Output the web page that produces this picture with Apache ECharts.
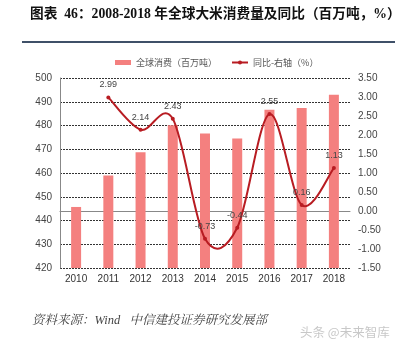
<!DOCTYPE html>
<html>
<head>
<meta charset="utf-8">
<script src="https://cdn.jsdelivr.net/npm/echarts@6/dist/echarts.min.js"></script>
<style>
  html, body { margin: 0; padding: 0; background: #fff; }
  #chart { width: 413px; height: 347px; }
</style>
</head>
<body>
<div id="chart"></div>
<script>
// Global rice consumption (million tonnes) and year-on-year change (%)
const years = ['2010', '2011', '2012', '2013', '2014', '2015', '2016', '2017', '2018'];
const consumption = [445.7, 458.9, 468.7, 480.1, 476.6, 474.5, 486.6, 487.4, 492.9];
const yoy = [null, 2.99, 2.14, 2.43, -0.73, -0.44, 2.55, 0.16, 1.13];
const leftTicks = { min: 420, max: 500, interval: 10 };
const rightTicks = { min: -1.5, max: 3.5, interval: 0.5 };

const LINE_COLOR = '#b81c22';

// Catmull-Rom style smoothed path through the yoy points (spreadsheet-like curve)
function renderCurve(params, api) {
  if (params.dataIndex !== 0) return null;
  const pts = [];
  years.forEach((y, i) => {
    if (yoy[i] !== null) pts.push(api.coord([i, yoy[i]]));
  });
  if (pts.length < 2) return null;
  let d = 'M' + pts[0][0] + ' ' + pts[0][1];
  for (let i = 0; i < pts.length - 1; i++) {
    const p0 = pts[Math.max(i - 1, 0)];
    const p1 = pts[i];
    const p2 = pts[i + 1];
    const p3 = pts[Math.min(i + 2, pts.length - 1)];
    const c1x = p1[0] + (p2[0] - p0[0]) / 6;
    const c1y = p1[1] + (p2[1] - p0[1]) / 6;
    const c2x = p2[0] - (p3[0] - p1[0]) / 6;
    const c2y = p2[1] - (p3[1] - p1[1]) / 6;
    d += ' C' + c1x + ' ' + c1y + ' ' + c2x + ' ' + c2y + ' ' + p2[0] + ' ' + p2[1];
  }
  return {
    type: 'path',
    shape: { pathData: d },
    style: { stroke: LINE_COLOR, lineWidth: 2, fill: null }
  };
}

const chart = echarts.init(document.getElementById('chart'));
chart.setOption({
  backgroundColor: '#ffffff',
  animation: false,
  graphic: [
    {
      type: 'text', left: 30, top: 8,
      style: {
        text: '图表  46：2008-2018 年全球大米消费量及同比（百万吨，%）',
        font: 'bold 13.7px "Liberation Serif", "Noto Sans CJK SC", serif',
        fill: '#111'
      }
    },
    {
      type: 'line', shape: { x1: 22, y1: 42, x2: 395, y2: 42 },
      style: { stroke: '#3f5068', lineWidth: 2 }
    },
    {
      type: 'text', left: 32, top: 314,
      style: {
        text: '资料来源：Wind   中信建投证券研究发展部',
        font: 'italic 12.5px "Liberation Serif", "Noto Serif CJK SC", "Noto Sans CJK SC", serif',
        fill: '#444'
      }
    },
    {
      type: 'text', left: 300, top: 326,
      style: {
        text: '头条 @未来智库',
        font: '12.5px "Noto Sans CJK SC", sans-serif',
        fill: '#c8c8c8'
      }
    }
  ],
  legend: {
    left: 110, top: 53,
    itemWidth: 16, itemHeight: 5, itemGap: 14,
    textStyle: { fontSize: 9, color: '#555', fontFamily: '"Noto Sans CJK SC", sans-serif' },
    data: [
      { name: '全球消费（百万吨）', icon: 'rect' },
      { name: '同比-右轴（%）', itemStyle: { color: LINE_COLOR }, lineStyle: { color: LINE_COLOR, width: 2, opacity: 1 } }
    ]
  },
  grid: { left: 60, right: 63, top: 78, bottom: 79 },
  xAxis: {
    type: 'category',
    data: years,
    axisLine: { lineStyle: { color: '#888', width: 1 } },
    axisTick: { inside: true, length: 4, lineStyle: { color: '#888' } },
    axisLabel: { color: '#333', fontSize: 10, margin: 6, fontFamily: 'Arial, "Liberation Sans", sans-serif' }
  },
  yAxis: [
    {
      type: 'value', min: leftTicks.min, max: leftTicks.max, interval: leftTicks.interval,
      axisLine: { show: true, lineStyle: { color: '#888' } },
      axisTick: { show: false },
      axisLabel: { color: '#444', fontSize: 10, margin: 8, fontFamily: 'Arial, "Liberation Sans", sans-serif' },
      splitLine: { lineStyle: { color: '#333', type: [2, 1], width: 1 } }
    },
    {
      type: 'value', min: rightTicks.min, max: rightTicks.max, interval: rightTicks.interval,
      axisLine: { show: false },
      axisTick: { show: false },
      axisLabel: {
        color: '#444', fontSize: 10, margin: 8,
        fontFamily: 'Arial, "Liberation Sans", sans-serif',
        formatter: v => v.toFixed(2)
      },
      splitLine: { show: false }
    }
  ],
  series: [
    {
      name: '全球消费（百万吨）',
      type: 'bar',
      data: consumption,
      barWidth: '31%',
      itemStyle: { color: '#f4807f' }
    },
    {
      // points and value labels; the curve itself is drawn by the custom series below
      name: '同比-右轴（%）',
      type: 'line',
      yAxisIndex: 1,
      data: yoy,
      symbol: 'circle',
      symbolSize: 4,
      lineStyle: { color: LINE_COLOR, width: 0, opacity: 0 },
      itemStyle: { color: LINE_COLOR },
      z: 4,
      label: {
        show: true, position: 'top', distance: 6,
        color: '#444', fontSize: 9,
        fontFamily: 'Arial, "Liberation Sans", sans-serif',
        formatter: p => p.value.toFixed(2)
      }
    },
    {
      name: '同比-右轴（%）',
      type: 'custom',
      yAxisIndex: 1,
      data: yoy.map((v, i) => [i, v]),
      renderItem: renderCurve,
      silent: true,
      z: 3
    }
  ]
});
</script>
</body>
</html>
